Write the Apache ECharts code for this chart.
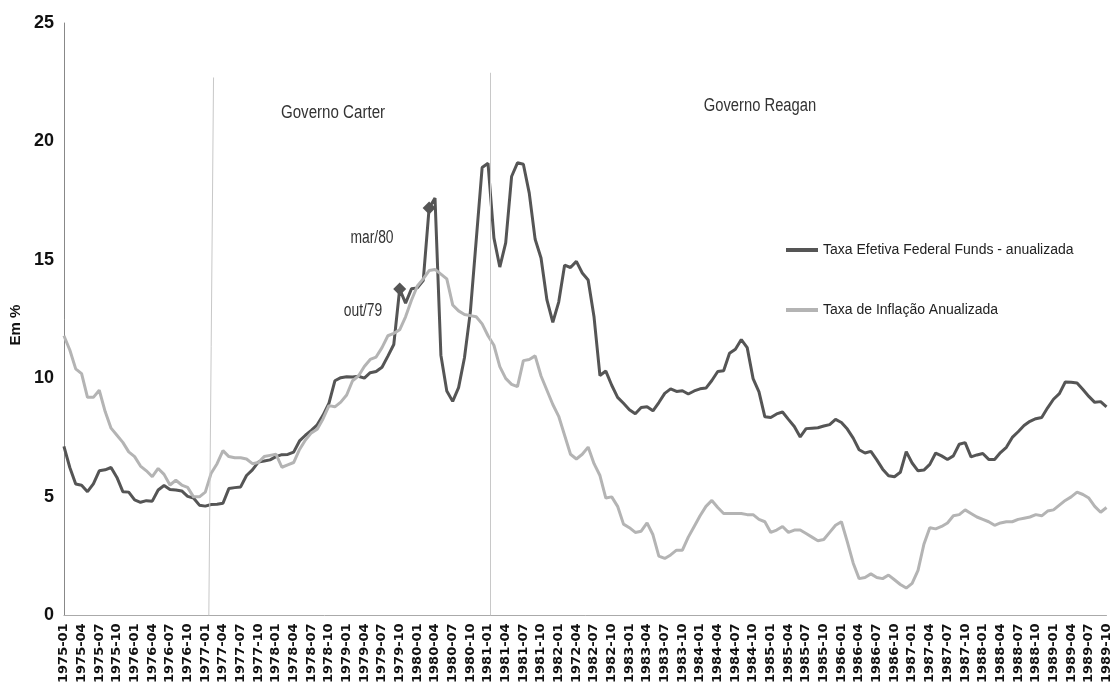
<!DOCTYPE html>
<html>
<head>
<meta charset="utf-8">
<script src="https://cdn.jsdelivr.net/npm/echarts@6/dist/echarts.min.js"></script>
<style>
  html, body {margin: 0; padding: 0; background: #fff;}
  #chart {width: 1113px; height: 686px;}
</style>
</head>
<body>
<div id="chart"></div>
<script>
// monthly, 1975-01 .. 1989-10
const months = [];
for (let y = 1975; y <= 1989; y++) {
  for (let m = 1; m <= 12; m++) {
    if (y === 1989 && m > 10) break;
    months.push(y + '-' + String(m).padStart(2, '0'));
  }
}

// quarterly tick labels as printed (note the 1972-04 typo in the original)
const tickLabels = [
  '1975-01', '1975-04', '1975-07', '1975-10', '1976-01', '1976-04', '1976-07', '1976-10',
  '1977-01', '1977-04', '1977-07', '1977-10', '1978-01', '1978-04', '1978-07', '1978-10',
  '1979-01', '1979-04', '1979-07', '1979-10', '1980-01', '1980-04', '1980-07', '1980-10',
  '1981-01', '1981-04', '1981-07', '1981-10', '1982-01', '1972-04', '1982-07', '1982-10',
  '1983-01', '1983-04', '1983-07', '1983-10', '1984-01', '1984-04', '1984-07', '1984-10',
  '1985-01', '1985-04', '1985-07', '1985-10', '1986-01', '1986-04', '1986-07', '1986-10',
  '1987-01', '1987-04', '1987-07', '1987-10', '1988-01', '1988-04', '1988-07', '1988-10',
  '1989-01', '1989-04', '1989-07', '1989-10'
];

const fedFunds = [
  7.13, 6.24, 5.54, 5.49, 5.22, 5.55, 6.10, 6.14, 6.24, 5.82, 5.22, 5.20,
  4.87, 4.77, 4.84, 4.82, 5.29, 5.48, 5.31, 5.29, 5.25, 5.02, 4.95, 4.65,
  4.61, 4.68, 4.69, 4.73, 5.35, 5.39, 5.42, 5.90, 6.14, 6.47, 6.51, 6.56,
  6.70, 6.78, 6.79, 6.89, 7.36, 7.60, 7.81, 8.04, 8.45, 8.96, 9.90, 10.03,
  10.07, 10.06, 10.09, 10.01, 10.24, 10.29, 10.47, 10.94, 11.43, 13.77, 13.18, 13.78,
  13.82, 14.13, 17.19, 17.61, 10.98, 9.47, 9.03, 9.61, 10.87, 12.81, 15.85, 18.90,
  19.08, 15.93, 14.70, 15.72, 18.52, 19.10, 19.04, 17.82, 15.87, 15.08, 13.31, 12.37,
  13.22, 14.78, 14.68, 14.94, 14.45, 14.15, 12.59, 10.12, 10.31, 9.71, 9.20, 8.95,
  8.68, 8.51, 8.77, 8.80, 8.63, 8.98, 9.37, 9.56, 9.45, 9.48, 9.34, 9.47,
  9.56, 9.59, 9.91, 10.29, 10.32, 11.06, 11.23, 11.64, 11.30, 9.99, 9.43, 8.38,
  8.35, 8.50, 8.58, 8.27, 7.97, 7.53, 7.88, 7.90, 7.92, 7.99, 8.05, 8.27,
  8.14, 7.86, 7.48, 6.99, 6.85, 6.92, 6.56, 6.17, 5.89, 5.85, 6.04, 6.91,
  6.43, 6.10, 6.13, 6.37, 6.85, 6.73, 6.58, 6.73, 7.22, 7.29, 6.69, 6.77,
  6.83, 6.58, 6.58, 6.87, 7.09, 7.51, 7.75, 8.01, 8.19, 8.30, 8.35, 8.76,
  9.12, 9.36, 9.85, 9.84, 9.81, 9.53, 9.24, 8.99, 9.02, 8.80
];

const inflation = [
  11.8, 11.2, 10.4, 10.2, 9.2, 9.2, 9.5, 8.6, 7.9, 7.6, 7.3, 6.9,
  6.7, 6.3, 6.1, 5.85, 6.2, 5.95, 5.5, 5.7, 5.5, 5.4, 5.0, 5.0,
  5.2, 6.0, 6.4, 6.95, 6.7, 6.65, 6.65, 6.6, 6.4, 6.45, 6.7, 6.75,
  6.8, 6.25, 6.35, 6.45, 7.0, 7.4, 7.7, 7.85, 8.3, 8.85, 8.8, 9.0,
  9.3, 9.9, 10.1, 10.5, 10.8, 10.9, 11.3, 11.8, 11.9, 12.05, 12.6, 13.3,
  13.9, 14.2, 14.55, 14.6, 14.4, 14.2, 13.1, 12.85, 12.7, 12.65, 12.6, 12.3,
  11.8, 11.4, 10.5, 10.0, 9.75, 9.65, 10.75, 10.8, 10.95, 10.1, 9.5, 8.9,
  8.4, 7.6, 6.8, 6.6, 6.8, 7.1, 6.4, 5.9, 4.95, 5.0, 4.6, 3.85,
  3.7, 3.5, 3.55, 3.9, 3.4, 2.5, 2.4, 2.55, 2.75, 2.75, 3.3, 3.75,
  4.2, 4.6, 4.85, 4.55, 4.3, 4.3, 4.3, 4.3, 4.25, 4.25, 4.05, 3.95,
  3.5, 3.6, 3.75, 3.5, 3.6, 3.6, 3.45, 3.3, 3.15, 3.2, 3.5, 3.8,
  3.95, 3.1, 2.2, 1.55, 1.6, 1.75, 1.6, 1.55, 1.7, 1.5, 1.3, 1.15,
  1.35, 1.9, 3.0, 3.7, 3.65, 3.75, 3.9, 4.2, 4.25, 4.45, 4.3, 4.15,
  4.05, 3.95, 3.8, 3.9, 3.95, 3.95, 4.05, 4.1, 4.15, 4.25, 4.2, 4.4,
  4.45, 4.65, 4.85, 5.0, 5.2, 5.1, 4.95, 4.6, 4.35, 4.55
];

// highlighted months
const marked = ['1979-10', '1980-03'];
// start of each term as fractional month index: [bottom, top, top value]
const termLines = [[24.6, 25.4, 22.7], [72.3, 72.3, 22.9]];

const seriesNames = ['Taxa Efetiva Federal Funds - anualizada', 'Taxa de Inflação Anualizada'];
const sans = "'Liberation Sans', Arial, sans-serif";

const note = (text, x, y, sx) => ({
  type: 'text', x: x, y: y, scaleX: sx, silent: true,
  style: {text: text, fontFamily: sans, fontSize: 18, fill: '#333', align: 'center', verticalAlign: 'middle'}
});

const chart = echarts.init(document.getElementById('chart'));

chart.setOption({
  animation: false,
  backgroundColor: '#fff',
  grid: {left: 60, right: 0, top: 23, bottom: 67},
  legend: {
    orient: 'vertical',
    left: 781,
    top: 236,
    itemWidth: 32,
    itemHeight: 4,
    itemGap: 42,
    icon: 'rect',
    textStyle: {fontFamily: sans, fontSize: 14, color: '#222', lineHeight: 18},
    data: seriesNames
  },
  xAxis: [{
    type: 'category',
    data: months,
    boundaryGap: false,
    axisTick: {show: false},
    axisLine: {lineStyle: {color: '#aaa', width: 1}},
    axisLabel: {
      interval: 2,
      rotate: 90,
      margin: 8,
      fontFamily: "'DejaVu Sans', sans-serif",
      fontWeight: 'bold',
      fontSize: 13,
      color: '#111',
      formatter: (val, idx) => tickLabels[idx / 3]
    },
    splitLine: {show: false}
  }, {
    type: 'value',
    min: 0,
    max: months.length - 1,
    show: false
  }],
  yAxis: {
    type: 'value',
    min: 0,
    max: 25,
    interval: 5,
    name: 'Em %',
    nameLocation: 'middle',
    nameGap: 33,
    nameTextStyle: {fontFamily: sans, fontWeight: 'bold', fontSize: 15, color: '#111', padding: [0, 12, 0, 0]},
    axisLine: {show: true, lineStyle: {color: '#888', width: 1}},
    axisTick: {show: false},
    axisLabel: {fontFamily: sans, fontWeight: 'bold', fontSize: 18, color: '#111', margin: 10},
    splitLine: {show: false}
  },
  graphic: [
    note('Governo Carter', 333, 113, 0.84),
    note('Governo Reagan', 760, 106, 0.82),
    note('mar/80', 372, 238, 0.77),
    note('out/79', 363, 311, 0.77)
  ],
  series: [{
    name: seriesNames[0],
    type: 'line',
    data: fedFunds,
    showSymbol: false,
    color: '#555',
    lineStyle: {color: '#555', width: 3},
    markPoint: {
      symbol: 'diamond',
      symbolSize: 13,
      itemStyle: {color: '#555'},
      label: {show: false},
      data: marked.map(m => ({coord: [m, fedFunds[months.indexOf(m)]]}))
    }
  }, {
    name: seriesNames[1],
    type: 'line',
    data: inflation,
    showSymbol: false,
    color: '#b4b4b4',
    lineStyle: {color: '#b4b4b4', width: 3}
  }, {
    type: 'line',
    xAxisIndex: 1,
    data: [],
    silent: true,
    markLine: {
      symbol: ['none', 'none'],
      silent: true,
      label: {show: false},
      lineStyle: {color: '#c8c8c8', width: 1, type: 'solid'},
      data: termLines.map(t => [{coord: [t[0], 0]}, {coord: [t[1], t[2]]}])
    }
  }]
});
</script>
</body>
</html>
